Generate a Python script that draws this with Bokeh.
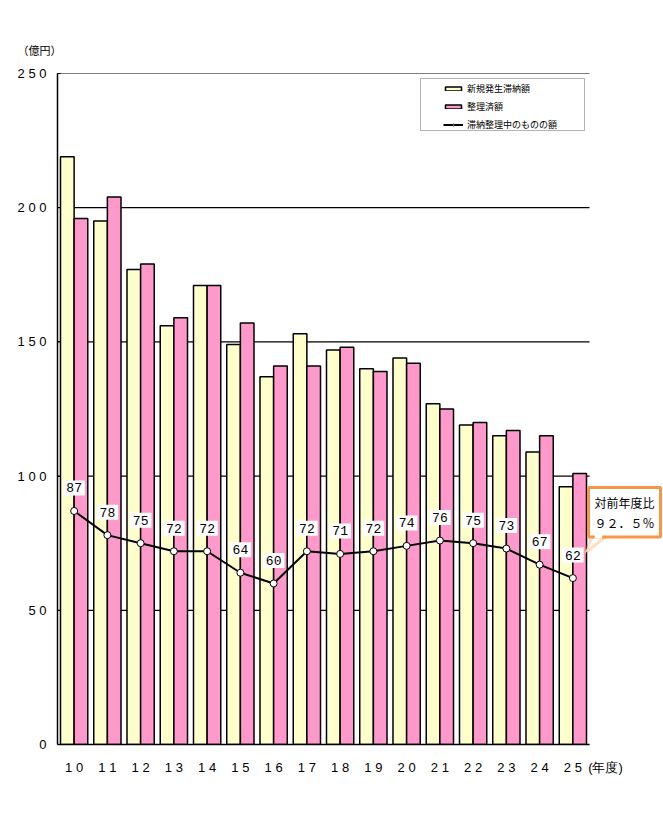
from bokeh.plotting import figure
from bokeh.models import (ColumnDataSource, FixedTicker, Legend, LegendItem, Label,
                          PolyAnnotation, BoxAnnotation, Title)
from bokeh.transform import dodge
from bokeh.core.properties import value
from bokeh.embed import file_html
from bokeh.resources import INLINE

# ---- data ----
years = ["10", "11", "12", "13", "14", "15", "16", "17", "18", "19", "20", "21", "22", "23", "24", "25"]
new_arrears = [219, 195, 177, 156, 171, 149, 137, 153, 147, 140, 144, 127, 119, 115, 109, 96]
settled = [196, 204, 179, 159, 171, 157, 141, 141, 148, 139, 142, 125, 120, 117, 115, 101]
backlog = [87, 78, 75, 72, 72, 64, 60, 72, 71, 72, 74, 76, 75, 73, 67, 62]
y_ticks = [0, 50, 100, 150, 200, 250]
series_names = ["新規発生滞納額", "整理済額", "滞納整理中のものの額"]
x_unit = "(年度)"
y_unit = "（億円）"
callout_text = "対前年度比\n９２．５％"

YELLOW = "#FFFFCC"
PINK = "#FF99CC"
ORANGE = "#F79646"

# layout (pixels)
L, R, T, B = 57, 589, 73, 744
W, H = 663, 813
n = len(years)
x_lo, x_hi = -0.5, n - 0.5
y_lo, y_hi = 0, 250


def dx(px):
    return x_lo + (px - L) * (x_hi - x_lo) / (R - L)


def dy(py):
    return y_lo + (B - py) * (y_hi - y_lo) / (B - T)


xs = list(range(n))
src = ColumnDataSource(dict(
    x=xs, new=new_arrears, settled=settled, backlog=backlog,
    lbl=[str(v) for v in backlog],
))

p = figure(width=W, height=H, output_backend="svg", toolbar_location=None,
           x_range=(x_lo, dx(W)), y_range=(y_lo, y_hi),
           min_border_left=L, min_border_right=0,
           min_border_top=T, min_border_bottom=H - B)
p.outline_line_color = None
p.background_fill_color = "white"

# horizontal gridlines over the category span
p.segment(x0=x_lo, x1=x_hi, y0=y_ticks, y1=y_ticks, line_color="black", line_width=1.2)

bw = 0.41
r_new = p.vbar(x=dodge("x", -bw / 2), top="new", width=bw, source=src,
               fill_color=YELLOW, line_color="black", line_width=1.5)
r_set = p.vbar(x=dodge("x", bw / 2), top="settled", width=bw, source=src,
               fill_color=PINK, line_color="black", line_width=1.5)
r_line = p.line(x="x", y="backlog", source=src, line_color="black", line_width=2)
r_pts = p.scatter(x="x", y="backlog", source=src, size=7, fill_color="white",
                  line_color="black", line_width=1)

p.text(x="x", y="backlog", text="lbl", source=src, y_offset=-23,
       text_align="center", text_baseline="middle",
       text_font=value("Liberation Mono"), text_font_size="13px", text_color="black",
       background_fill_color="white", padding=3)

# axes
unit_tick = dx(605)
p.xaxis.ticker = FixedTicker(ticks=xs + [unit_tick])
overrides = {i: " ".join(list(s)) for i, s in enumerate(years)}
overrides[unit_tick] = x_unit
p.xaxis.major_label_overrides = overrides
p.xaxis.bounds = (x_lo, x_hi)
p.xaxis.major_tick_line_color = None
p.xaxis.minor_tick_line_color = None
p.xaxis.axis_line_color = "black"
p.xaxis.axis_line_width = 1.5
p.xaxis.major_label_standoff = 9
p.xaxis.major_label_text_font = "Liberation Sans"
p.xaxis.major_label_text_font_size = "13px"
p.xaxis.major_label_text_color = "black"

p.yaxis.ticker = FixedTicker(ticks=y_ticks)
p.yaxis.major_label_overrides = {t: " ".join(list(str(t))) for t in y_ticks}
p.yaxis.major_tick_in = 3
p.yaxis.major_tick_out = 0
p.yaxis.minor_tick_line_color = None
p.yaxis.axis_line_color = "black"
p.yaxis.axis_line_width = 1.5
p.yaxis.major_label_standoff = 11
p.yaxis.major_label_text_font = "Liberation Sans"
p.yaxis.major_label_text_font_size = "13px"
p.yaxis.major_label_text_color = "black"

p.xgrid.grid_line_color = None
p.ygrid.grid_line_color = None

# y unit label as a title above the frame
p.add_layout(Title(text=y_unit, align="left", offset=-40, standoff=31,
                   text_font="Noto Sans CJK JP", text_font_size="11px",
                   text_font_style="normal", text_color="black"), "above")

# legend box + legend
p.add_layout(BoxAnnotation(left=dx(420), right=dx(584), top=dy(78), bottom=dy(130),
                           fill_color="white", fill_alpha=1, line_color="black",
                           line_width=1))
legend = Legend(items=[
    LegendItem(label=series_names[0], renderers=[r_new]),
    LegendItem(label=series_names[1], renderers=[r_set]),
    LegendItem(label=series_names[2], renderers=[r_line, r_pts]),
], location=(443 - L, B - 131), padding=4, spacing=5,
    glyph_width=20, glyph_height=5, label_height=12, label_width=109,
    label_standoff=4, border_line_color=None, background_fill_alpha=0,
    label_text_font="Noto Sans CJK JP", label_text_font_size="9px",
    label_text_color="black")
p.add_layout(legend, "center")

# callout
p.add_layout(PolyAnnotation(xs=[dx(593), dx(584), dx(608)], ys=[dy(534), dy(553), dy(534)],
                            fill_color="white", fill_alpha=1, line_color=ORANGE,
                            line_width=3))
p.add_layout(Label(x=dx(588), y=dy(487), text=callout_text, anchor="top_left",
                   text_font="Noto Sans CJK JP", text_font_size="12px",
                   text_line_height=1.2, text_color="black", padding=6,
                   background_fill_color="white", border_line_color=ORANGE,
                   border_line_width=3))
p.add_layout(PolyAnnotation(xs=[dx(595), dx(604), dx(601), dx(594)],
                            ys=[dy(530), dy(530), dy(538), dy(538)],
                            fill_color="white", fill_alpha=1, line_color=None))

open("out.html", "w").write(file_html(p, INLINE))
